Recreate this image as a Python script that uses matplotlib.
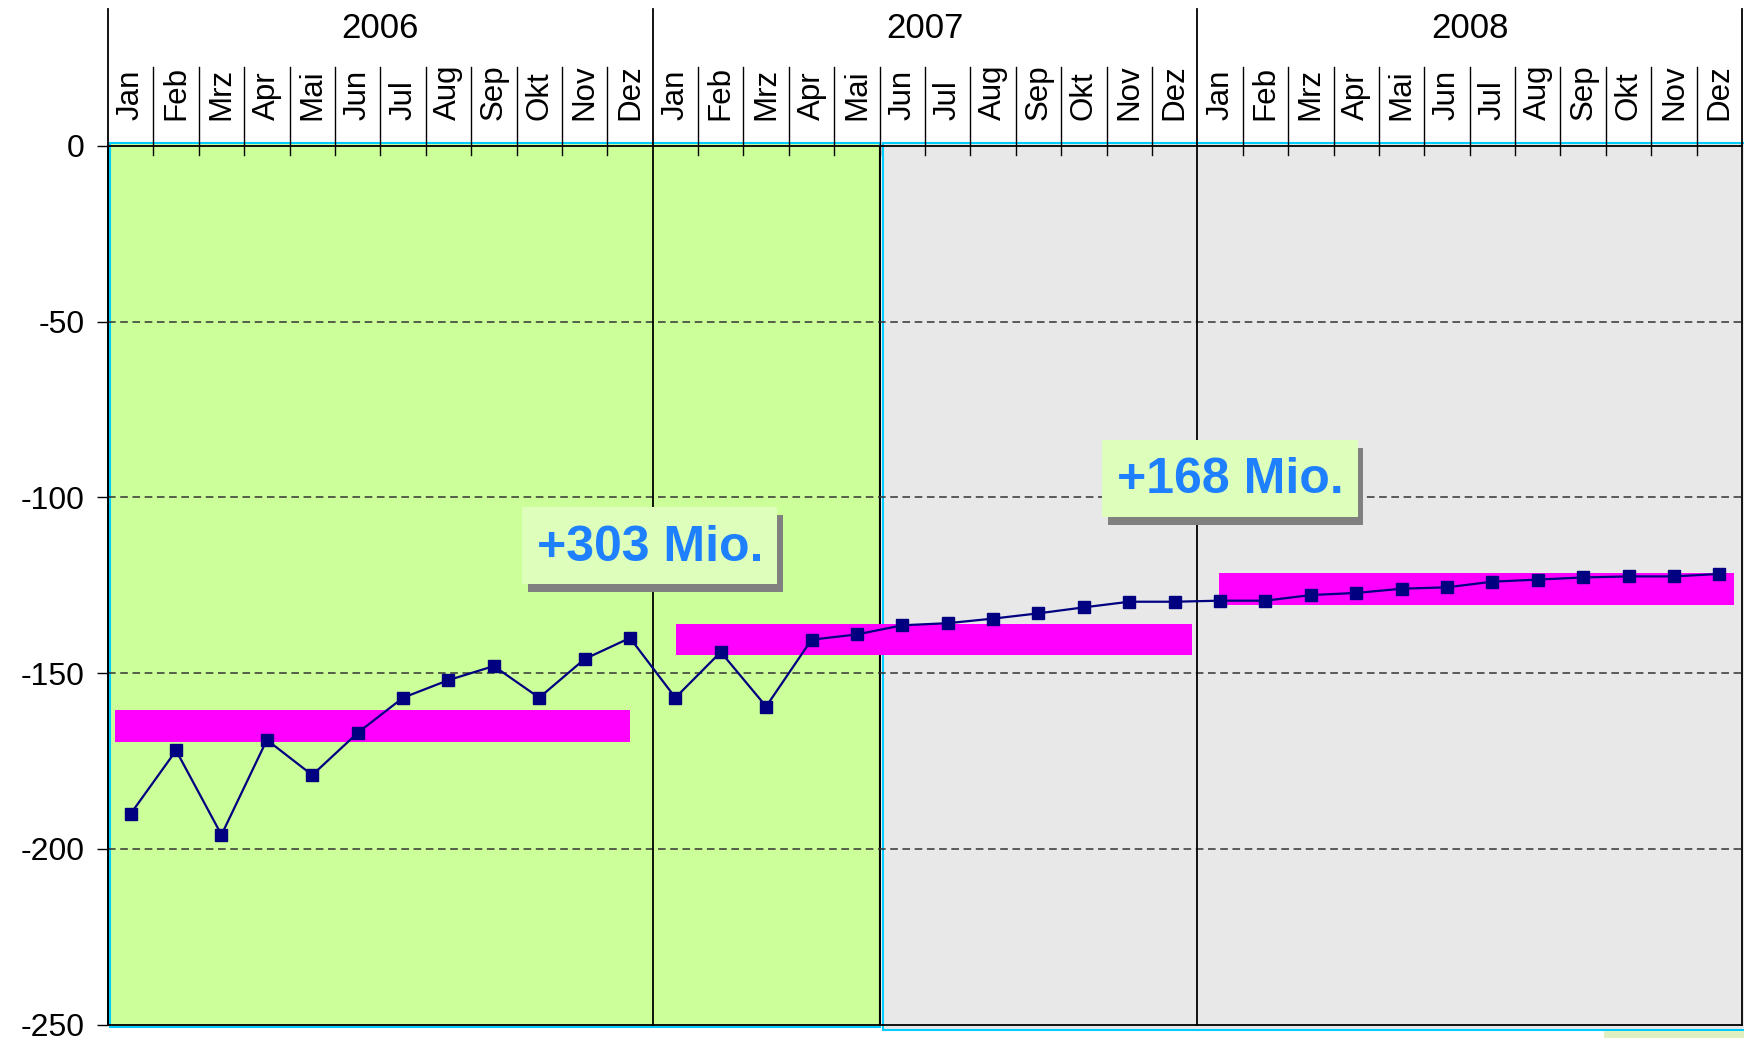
import numpy as np
import matplotlib.pyplot as plt
from matplotlib.patches import Rectangle

plt.rcParams['font.family'] = ['Liberation Sans', 'DejaVu Sans']
plt.rcParams['axes.unicode_minus'] = False

years = ['2006', '2007', '2008']
months = ['Jan', 'Feb', 'Mrz', 'Apr', 'Mai', 'Jun', 'Jul', 'Aug', 'Sep', 'Okt', 'Nov', 'Dez']
values_2006 = [-190, -172, -196, -169, -179, -167, -157, -152, -148, -157, -146, -140]
values_2007 = [-157, -144, -159.5, -140.5, -139, -136.4, -135.8, -134.5, -133, -131.3, -129.7, -129.7]
values_2008 = [-129.4, -129.4, -127.8, -127.2, -126, -125.6, -124, -123.4, -122.8, -122.5, -122.5, -121.8]
year_means = [-165.1, -140.4, -126.1]
deltas = ['+303 Mio.', '+168 Mio.']
yticks = [0, -50, -100, -150, -200, -250]

values = values_2006 + values_2007 + values_2008
n = len(values)
x = np.arange(n) + 0.5
split = 17  # actuals (green) until Mai 2007
bar_shift = [-0.27, 0.1, 0.05]

fig = plt.figure(figsize=(17.44, 10.38), dpi=100)
ax = fig.add_axes([0.06193, 0.01281, 0.93693, 0.84682])
ax.set_xlim(0, n)
ax.set_ylim(-250, 0)
ax.set_facecolor('white')

# background areas
ax.add_patch(Rectangle((0.05, -250.65), split - 0.05, 251.4, fc='#CCFF99', ec='#00CCFF',
                       lw=1.5, clip_on=False, zorder=0.5))
ax.add_patch(Rectangle((split + 0.08, -251.5), 20, 252.3, fc='#E8E8E8', ec='#00CCFF',
                       lw=1.5, clip_on=False, zorder=0.5))
ax.plot([split, split], [-250, 0], color='black', lw=1.5, zorder=1)

for v in yticks[1:-1]:
    ax.axhline(v, color='#333333', lw=1.1, ls=(0, (5, 3)), zorder=1)

tr = ax.get_xaxis_transform()
# year separators and left axis extension
for k in range(0, n + 1, 12):
    ax.plot([k, k], [0, 1.1555], transform=tr, color='black', lw=1.3, clip_on=False, zorder=1.5)
# month separators
for m in range(1, n):
    if m % 12:
        ax.plot([m, m], [0.9894, 1.0895], transform=tr, color='black', lw=1, clip_on=False)
for i in range(n):
    ax.text(i + 0.5, 1.0292, months[i % 12], rotation=90, ha='center', va='bottom',
            transform=tr, fontsize=22.5)
for k, yr in enumerate(years):
    ax.text(12 * k + 6, 1.1339, yr, ha='center', va='center', transform=tr, fontsize=25)

# yearly averages and monthly series
for k, mean in enumerate(year_means):
    ax.barh(mean, 11.36, left=12 * k + 0.42 + bar_shift[k], height=9, color='#FF00FF', zorder=3)
ax.plot(x, values, color='#000080', lw=1.6, zorder=3.5)
ax.plot(x, values, ls='none', marker='s', ms=8, color='#000080', zorder=4)

# annotation boxes
box_centers = [(11.94, -113.7), (24.72, -94.6)]
bw, bh = 5.62, 21.8
for (cx, cy), label in zip(box_centers, deltas):
    ax.add_patch(Rectangle((cx - bw / 2 + 0.13, cy - bh / 2 - 2.3), bw, bh, fc='#808080',
                           ec='none', zorder=5))
    ax.add_patch(Rectangle((cx - bw / 2, cy - bh / 2), bw, bh, fc='#DDFFBB', ec='none', zorder=6))
    ax.text(cx, cy - 0.6, label, ha='center', va='center', fontsize=36, fontweight='bold',
            color='#1E80FF', zorder=7)

ax.set_xticks([])
ax.set_yticks(yticks)
ax.tick_params(axis='y', length=8, width=1, pad=9, labelsize=23, direction='out')
ax.spines['right'].set_visible(False)
for s in ['top', 'bottom', 'left']:
    ax.spines[s].set_linewidth(1.3)
    ax.spines[s].set_zorder(2)

fig.patches.append(Rectangle((1604 / 1744, 0), 140 / 1744, 7 / 1038, transform=fig.transFigure,
                             fc='#E0F0C0', ec='none'))

plt.savefig('out.png', dpi=100)
